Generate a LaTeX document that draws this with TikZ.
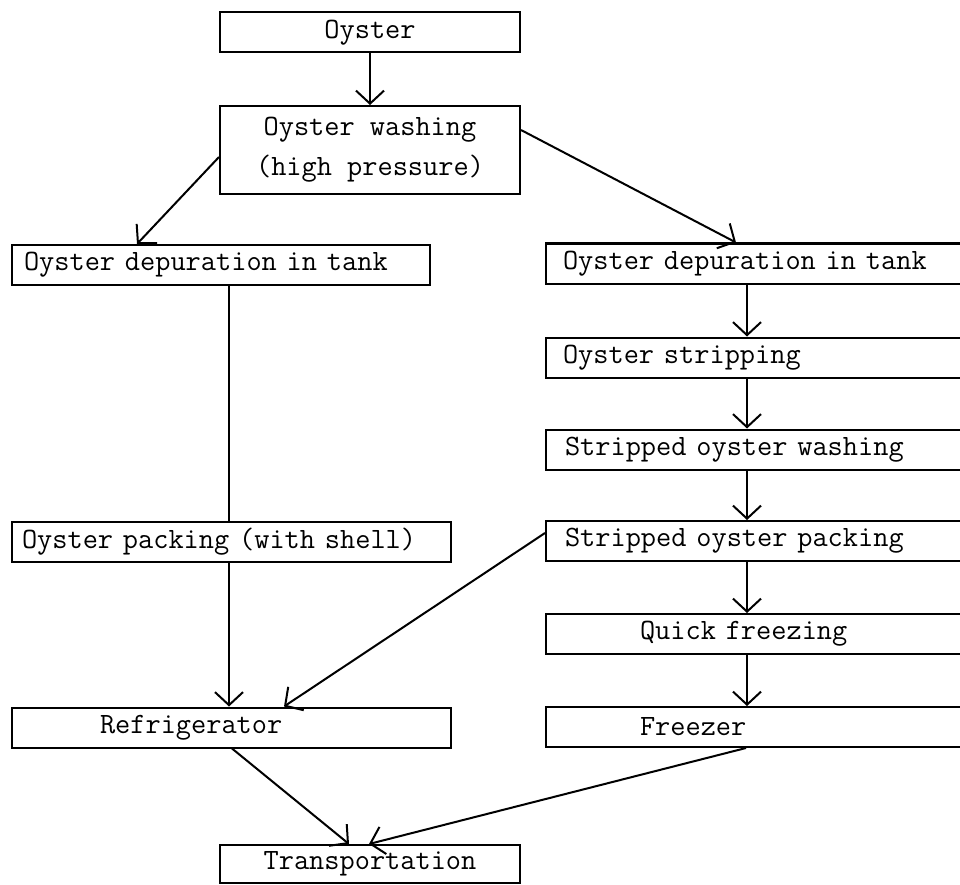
\documentclass[tikz,border=0pt]{standalone}
\usepackage{tikz}
\usetikzlibrary{positioning, arrows.meta}

\begin{document}
\begin{tikzpicture}[x=1pt, y=-1pt, line width=2pt,
    box/.style={draw, rectangle, minimum height=40pt, inner ysep=0pt,
        font=\fontsize{29.5}{40}\selectfont\ttfamily},
    cbox/.style={box, minimum width=300pt, inner xsep=0pt},
    lbox/.style 2 args={box, text width=#1, inner xsep=#2, align=left},
    arr/.style={-{Straight Barb[length=13pt, width=28pt]}}]
    \useasboundingbox (0,0) rectangle (960,885);

    % top of the chart
    \node[cbox] (oyster) at (370,32.5) {Oyster};
    \node[cbox, minimum height=88pt, align=center] (wash) at (370,150) {Oyster washing\\(high pressure)};

    % left branch: oysters sold in the shell
    \node[lbox={394pt}{12pt}] (ldep) at (221,265) {Oyster depuration in tank};
    \node[lbox={419pt}{10pt}] (lpack) at (231.5,542) {Oyster packing (with shell)};
    \node[lbox={263pt}{88pt}] (refr) at (231.5,727.5) {Refrigerator};

    % right branch: stripped oysters
    \node[lbox={400pt}{17pt}] (rdep) at (763,263.5) {Oyster depuration in tank};
    \node[lbox={400pt}{17pt}] (strip) at (763,357.5) {Oyster stripping};
    \node[lbox={396pt}{19pt}] (swash) at (763,449.5) {Stripped oyster washing};
    \node[lbox={396pt}{19pt}] (spack) at (763,541) {Stripped oyster packing};
    \node[lbox={246pt}{94pt}] (quick) at (763,634) {Quick freezing};
    \node[lbox={246pt}{94pt}] (freezer) at (763,727) {Freezer};

    \node[cbox, minimum height=38pt] (trans) at (370,864) {Transportation};

    % connections
    \draw[arr] (oyster) -- (wash);
    \draw[arr] ([yshift=-7pt]wash.west) -- ([xshift=126pt]ldep.north west);
    \draw[arr] ([yshift=20pt]wash.east) -- ([xshift=191pt]rdep.north west);
    \draw ([xshift=218pt]ldep.south west) -- ([xshift=218pt]lpack.north west);
    \draw[arr] ([xshift=218pt]lpack.south west) -- ([xshift=218pt]refr.north west);
    \draw[arr] ([yshift=8pt]spack.west) -- ([xshift=273pt]refr.north west);
    \foreach \a/\b in {rdep/strip, strip/swash, swash/spack, spack/quick, quick/freezer}
        \draw[arr] ([xshift=202pt]\a.south west) -- ([xshift=202pt]\b.north west);
    \draw[arr] ([xshift=221pt]refr.south west) -- ([xshift=130pt]trans.north west);
    \draw[arr] ([xshift=201pt]freezer.south west) -- ([xshift=150pt]trans.north west);
\end{tikzpicture}
\end{document}
